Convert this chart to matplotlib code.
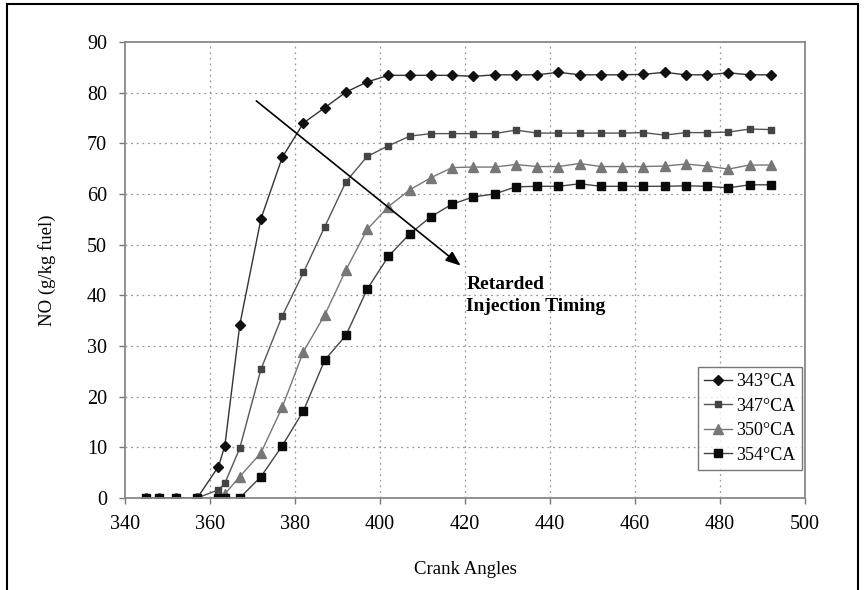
import numpy as np
import matplotlib
matplotlib.use("Agg")
from matplotlib import pyplot as plt
from matplotlib.lines import Line2D

plt.rcParams['font.family'] = ['Liberation Serif', 'DejaVu Serif']

# crank angle grid shared by the four curves
crank = [345, 348, 352, 357, 362, 363.5, 367, 372, 377, 382, 387, 392, 397,
         402, 407, 412, 417, 422, 427, 432, 437, 442, 447, 452, 457, 462,
         467, 472, 477, 482, 487, 492]

no_343 = [0, 0, 0, 0, 6.2, 10.3, 34.1, 55.1, 67.2, 74.0, 77.0, 80.1, 82.1,
          83.4, 83.4, 83.4, 83.4, 83.2, 83.5, 83.5, 83.5, 84.0, 83.5, 83.5,
          83.5, 83.6, 84.0, 83.5, 83.5, 83.9, 83.5, 83.5]
no_347 = [0, 0, 0, 0, 1.6, 2.9, 9.8, 25.4, 35.9, 44.5, 53.5, 62.4, 67.4,
          69.5, 71.4, 71.9, 71.9, 71.9, 71.9, 72.6, 72.0, 72.0, 72.0, 72.0,
          72.0, 72.1, 71.6, 72.1, 72.1, 72.2, 72.8, 72.7]
no_350 = [0, 0, 0, 0, 0, 0.8, 4.2, 8.9, 17.9, 28.9, 36.1, 45.0, 53.0,
          57.5, 60.8, 63.2, 65.2, 65.3, 65.3, 65.8, 65.4, 65.4, 66.0, 65.4,
          65.4, 65.4, 65.5, 65.9, 65.5, 64.9, 65.7, 65.7]
no_354 = [0, 0, 0, 0, 0, 0, 0, 4.2, 10.3, 17.2, 27.2, 32.1, 41.2,
          47.7, 52.1, 55.5, 58.0, 59.4, 60.0, 61.4, 61.5, 61.5, 62.0, 61.5,
          61.5, 61.5, 61.5, 61.6, 61.5, 61.2, 61.8, 61.8]

labels = ["343°CA", "347°CA", "350°CA", "354°CA"]

fig = plt.figure(figsize=(8.65, 5.9), dpi=100)
ax = fig.add_axes([0.1445, 0.156, 0.786, 0.773])

ax.plot(crank, no_343, color="#333333", lw=1.0, marker="D", ms=5.5,
        mfc="#111111", mec="#111111", label=labels[0])
ax.plot(crank, no_347, color="#555555", lw=1.0, marker="s", ms=4.5,
        mfc="#444444", mec="#444444", label=labels[1])
ax.plot(crank, no_350, color="#777777", lw=1.0, marker="^", ms=6.5,
        mfc="#777777", mec="#777777", label=labels[2])
ax.plot(crank, no_354, color="#444444", lw=1.0, marker="s", ms=5.5,
        mfc="#0a0a0a", mec="#0a0a0a", label=labels[3])

ax.set_xlim(340, 500)
ax.set_ylim(0, 90)
ax.set_xticks(np.arange(340, 501, 20))
ax.set_yticks(np.arange(0, 91, 10))
ax.tick_params(labelsize=14.5, direction="out", length=4, color="#777777",
               width=1)
ax.tick_params(axis="x", pad=8)
ax.tick_params(axis="y", pad=9)

for v in range(360, 500, 20):
    ax.axvline(v, color="#999999", lw=0.9, ls=(0, (1.5, 3)), zorder=0)
for v in range(10, 90, 10):
    ax.axhline(v, color="#999999", lw=0.9, ls=(0, (1.5, 3)), zorder=0)

for s in ax.spines.values():
    s.set_color("#888888")
    s.set_linewidth(1.3)

ax.set_xlabel("Crank Angles", fontsize=13.5, labelpad=20)
ax.set_ylabel("NO (g/kg fuel)", fontsize=13.5, labelpad=22)

ax.annotate("", xy=(419.5, 45.5), xytext=(370.4, 78.7),
            arrowprops=dict(arrowstyle="-|>,head_length=0.9,head_width=0.35",
                            color="black", lw=1.2))
ax.text(420.3, 43.8, "Retarded\nInjection Timing", fontsize=14,
        fontweight="bold", va="top", ha="left", linespacing=1.4)

leg = ax.legend(loc="upper left", bbox_to_anchor=(0.843, 0.288), fontsize=13,
                frameon=True, fancybox=False, borderpad=0.35,
                labelspacing=0.42, handlelength=1.5, handletextpad=0.25,
                borderaxespad=0.0)
leg.get_frame().set_edgecolor("#555555")
leg.get_frame().set_linewidth(1.0)

# outer frame of the scanned figure (open at the bottom)
fig.add_artist(Line2D([0.008, 0.008], [0.0, 0.994], color="black", lw=1.5,
                      transform=fig.transFigure))
fig.add_artist(Line2D([0.008, 0.992], [0.994, 0.994], color="black", lw=1.5,
                      transform=fig.transFigure))
fig.add_artist(Line2D([0.992, 0.992], [0.0, 0.994], color="black", lw=1.5,
                      transform=fig.transFigure))

fig.savefig("out.png", dpi=100)
